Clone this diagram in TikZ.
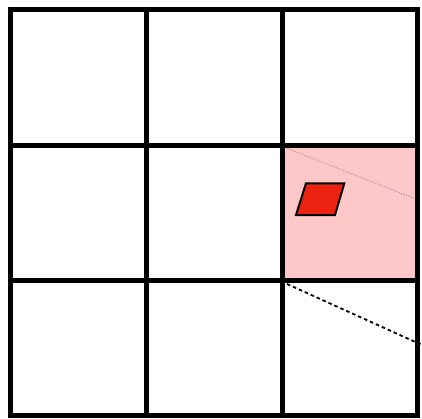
\documentclass[tikz,border=0pt]{standalone}
\begin{document}
\begin{tikzpicture}[x=1pt,y=-1pt,
  gridline/.style={line width=5pt,line cap=rect},
  thindot/.style={line width=0.9pt,draw={rgb,255:red,190;green,140;blue,140},dash pattern=on 1.2pt off 1.4pt},
  dashline/.style={line width=1.8pt,draw=black,dash pattern=on 3.5pt off 3pt}]
\useasboundingbox (0,0) rectangle (422,418);
\definecolor{pinkfill}{RGB}{255,200,200}
\definecolor{redfill}{RGB}{238,34,17}
\fill[pinkfill] (282,145) rectangle (417,280.5);
\coordinate (d1) at (285,147.5);
\coordinate (d2) at (417,199.5);
\draw[thindot] (d1) -- (d2);
\coordinate (e1) at (287,284);
\coordinate (e2) at (422,345);
\draw[dashline] (e1) -- (e2);
\draw[line width=2pt,fill=redfill,line join=miter] (296,215) -- (335,215) -- (344.3,183.3) -- (306,183.3) -- cycle;
\foreach \x in {10.5,146,282,417} \draw[gridline] (\x,9.5) -- (\x,415);
\foreach \y in {9.5,145,280.5,415} \draw[gridline] (10.5,\y) -- (417,\y);
\end{tikzpicture}
\end{document}
